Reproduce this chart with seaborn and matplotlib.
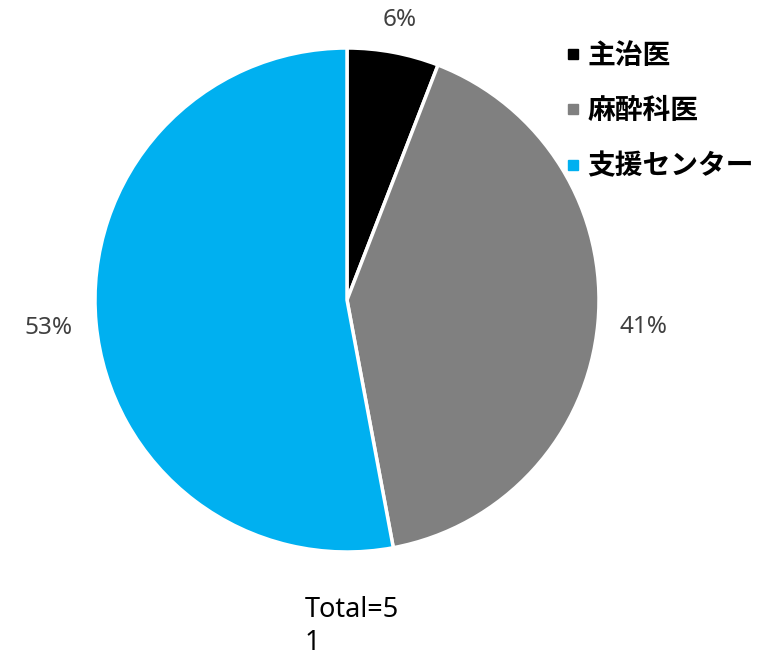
import numpy as np
import matplotlib
matplotlib.use("Agg")
import matplotlib.pyplot as plt
from matplotlib.lines import Line2D
import seaborn as sns

categories = ["主治医", "麻酔科医", "支援センター"]
counts = [3, 21, 27]
pct_labels = ["6%", "41%", "53%"]
total_label = "Total=5\n1"

colors = ["#000000", "#808080", "#00B0F0"]

sns.set_theme(style="white")
plt.rcParams["font.family"] = ["Noto Sans CJK JP", "DejaVu Sans"]

W, H = 773, 658
fig = plt.figure(figsize=(W / 100, H / 100), dpi=100)
fig.patch.set_facecolor("white")

# pie occupies a 504 px square centred at (347, 300) from the top-left
cx, cy, r = 347, 300, 252
ax = fig.add_axes([(cx - r) / W, (H - cy - r) / H, 2 * r / W, 2 * r / H])

wedges, _ = ax.pie(
    counts,
    colors=colors,
    startangle=90,
    counterclock=False,
    radius=1,
    wedgeprops=dict(edgecolor="white", linewidth=2.5),
)
ax.set_xlim(-1, 1)
ax.set_ylim(-1, 1)
ax.set_aspect("equal")
ax.axis("off")

# percentage labels outside each wedge
label_dist = [1.13, 1.18, 1.19]
for w, lab, d in zip(wedges, pct_labels, label_dist):
    ang = np.deg2rad((w.theta1 + w.theta2) / 2)
    ax.text(d * np.cos(ang), d * np.sin(ang), lab, ha="center", va="center",
            fontsize=17.5, color="#404040", family=["Noto Sans", "DejaVu Sans"],
            clip_on=False)

handles = [Line2D([0], [0], marker="s", linestyle="none", markersize=7.5,
                  markerfacecolor=c, markeredgecolor=c) for c in colors]
leg = fig.legend(handles, categories, loc="upper left",
                 bbox_to_anchor=(540 / W, 1 - 17 / H), frameon=False,
                 handlelength=0.6, handletextpad=0.2, labelspacing=0.98,
                 labelcolor="#000000",
                 prop=dict(size=20, weight="bold",
                           family=["Noto Sans CJK JP", "DejaVu Sans"]))

fig.text(305 / W, 1 - 596 / H, total_label, ha="left", va="top",
         fontsize=19.5, color="#000000", linespacing=1.25,
         family=["Noto Sans", "DejaVu Sans"])

fig.savefig("out.png", dpi=100, facecolor="white")
